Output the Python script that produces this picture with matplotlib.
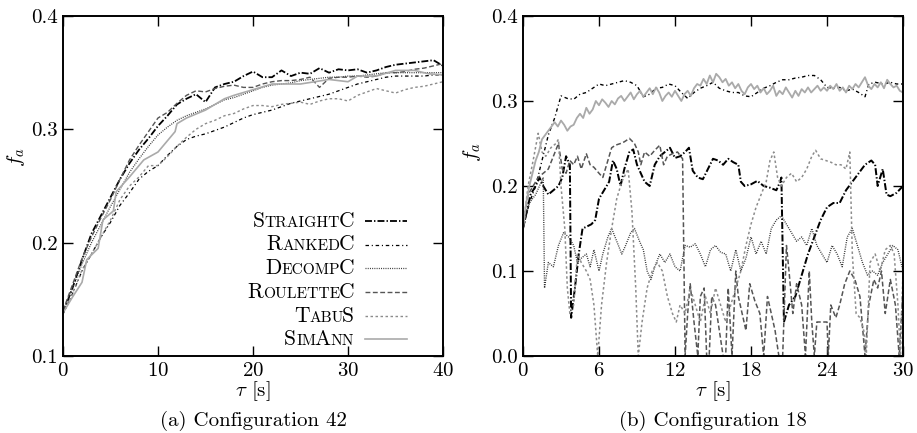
import numpy as np
import matplotlib
matplotlib.use("Agg")
import matplotlib.pyplot as plt
from matplotlib.lines import Line2D
from matplotlib.ticker import FormatStrFormatter, MultipleLocator
from matplotlib.offsetbox import TextArea, HPacker, VPacker, DrawingArea, AnchoredOffsetbox

plt.rcParams['font.family'] = 'cmr10'
plt.rcParams['mathtext.fontset'] = 'cm'
plt.rcParams['axes.formatter.use_mathtext'] = True
plt.rcParams['lines.scale_dashes'] = False

names = ['StraightC', 'RankedC', 'DecompC', 'RouletteC', 'TabuS', 'SimAnn']
colors = ['#000000', '#000000', '#333333', '#555555', '#8c8c8c', '#aaaaaa']
widths = [1.3, 0.9, 0.9, 1.0, 1.0, 1.2]
styles = [(0, (5, 1.5, 1, 1.5)), (0, (2.5, 2, 0.8, 2)), (0, (0.7, 0.9)),
          (0, (3.5, 1.8)), (0, (1.8, 1.8)), '-']

# ---- (a) configuration 42 ----
t_a = list(range(41))
straight_a = [0.138, 0.16, 0.185, 0.208, 0.224, 0.24, 0.256, 0.27, 0.282, 0.292, 0.303, 0.312,
              0.322, 0.327, 0.331, 0.324, 0.337, 0.34, 0.342, 0.347, 0.351, 0.346, 0.346, 0.352,
              0.347, 0.35, 0.349, 0.354, 0.35, 0.353, 0.352, 0.353, 0.35, 0.352, 0.355, 0.357,
              0.358, 0.359, 0.36, 0.361, 0.356]
ranked_a = [0.137, 0.155, 0.175, 0.19, 0.205, 0.218, 0.233, 0.244, 0.256, 0.263, 0.268, 0.277,
            0.285, 0.291, 0.294, 0.296, 0.299, 0.302, 0.306, 0.31, 0.313, 0.315, 0.317, 0.32,
            0.323, 0.325, 0.327, 0.329, 0.331, 0.334, 0.337, 0.34, 0.342, 0.344, 0.346, 0.347,
            0.347, 0.347, 0.347, 0.348, 0.348]
decomp_a = [0.14, 0.16, 0.181, 0.2, 0.216, 0.232, 0.247, 0.262, 0.274, 0.285, 0.295, 0.302,
            0.308, 0.312, 0.315, 0.318, 0.322, 0.326, 0.328, 0.331, 0.334, 0.337, 0.339, 0.34,
            0.341, 0.343, 0.344, 0.345, 0.346, 0.346, 0.347, 0.347, 0.348, 0.349, 0.35, 0.35,
            0.35, 0.35, 0.35, 0.35, 0.35]
roulette_a = [0.14, 0.163, 0.186, 0.205, 0.222, 0.238, 0.256, 0.273, 0.286, 0.298, 0.31, 0.315,
              0.323, 0.33, 0.334, 0.333, 0.336, 0.338, 0.339, 0.337, 0.337, 0.34, 0.342, 0.343,
              0.343, 0.344, 0.346, 0.337, 0.345, 0.346, 0.346, 0.347, 0.346, 0.347, 0.35, 0.35,
              0.351, 0.353, 0.354, 0.356, 0.358]
tabu_a = [0.137, 0.155, 0.176, 0.19, 0.205, 0.22, 0.238, 0.25, 0.258, 0.268, 0.268, 0.276,
          0.285, 0.293, 0.3, 0.305, 0.308, 0.312, 0.314, 0.318, 0.321, 0.321, 0.32, 0.322,
          0.323, 0.324, 0.322, 0.325, 0.327, 0.327, 0.325, 0.33, 0.333, 0.336, 0.334, 0.332,
          0.335, 0.337, 0.338, 0.34, 0.342]
t_sim_a = [0, 1, 2, 2.5, 3.7, 4.2, 5.3, 5.6, 7, 8.5, 10, 11, 11.8, 12, 13, 15, 17, 18, 20, 22,
           25, 28, 30, 31, 33, 35, 37, 38.5, 40]
simann_a = [0.138, 0.152, 0.165, 0.185, 0.195, 0.22, 0.228, 0.245, 0.258, 0.273, 0.28, 0.29,
            0.298, 0.305, 0.31, 0.317, 0.327, 0.33, 0.335, 0.34, 0.34, 0.344, 0.342, 0.347,
            0.347, 0.352, 0.352, 0.349, 0.348]

# ---- (b) configuration 18, (t, f) pairs ----
straight_b = [(0, .15), (.3, .17), (.6, .19), (1, .2), (1.3, .21), (1.6, .2), (2, .19), (2.4, .195),
              (2.8, .2), (3.1, .21), (3.4, .235), (3.7, .225), (3.8, .045), (4.1, .08), (4.4, .12),
              (4.7, .15), (5, .152), (5.4, .155), (5.7, .16), (6, .185), (6.4, .195), (6.8, .205),
              (7.1, .23), (7.4, .22), (7.7, .2), (8, .22), (8.4, .24), (8.7, .243), (9, .225),
              (9.3, .215), (9.6, .205), (10, .2), (10.4, .225), (10.8, .235), (11.2, .24),
              (11.6, .245), (12, .233), (12.4, .235), (12.8, .24), (13.1, .245), (13.4, .218),
              (13.8, .21), (14.2, .208), (14.6, .22), (15, .232), (15.4, .23), (15.8, .225),
              (16.2, .232), (16.6, .228), (17, .225), (17.2, .205), (17.5, .2), (18, .202),
              (18.5, .206), (19, .2), (19.5, .198), (20, .195), (20.3, .205), (20.4, .21),
              (20.6, .04), (21, .06), (21.5, .07), (22, .095), (22.5, .12), (23, .14), (23.5, .16),
              (24, .175), (24.5, .18), (25, .18), (25.5, .195), (26, .205), (26.5, .215),
              (27, .225), (27.5, .23), (27.8, .225), (28, .2), (28.2, .21), (28.4, .22),
              (28.7, .19), (29, .188), (29.5, .192), (30, .2)]
ranked_b = [(0, .15), (.5, .18), (1, .2), (1.5, .23), (2, .26), (2.5, .28), (3, .306), (3.5, .303),
            (4, .302), (4.5, .308), (5, .31), (5.5, .315), (6, .32), (6.5, .318), (7, .32),
            (7.5, .322), (8, .324), (8.5, .322), (9, .318), (9.5, .305), (10, .308), (10.5, .315),
            (11, .316), (11.5, .32), (12, .318), (12.5, .31), (13, .303), (13.5, .31), (14, .315),
            (14.5, .318), (15, .322), (15.5, .315), (16, .312), (16.5, .31), (17, .31),
            (17.5, .306), (18, .305), (18.5, .31), (19, .315), (19.5, .318), (20, .322),
            (20.5, .325), (21, .325), (21.5, .327), (22, .328), (22.5, .33), (23, .33),
            (23.5, .325), (24, .316), (24.5, .315), (25, .316), (25.5, .312), (26, .314),
            (26.5, .31), (27, .305), (27.3, .32), (27.8, .322), (28.5, .32), (29, .322),
            (29.5, .32), (30, .32)]
decomp_b = [(0, .15), (.5, .18), (1, .19), (1.3, .2), (1.6, .21), (1.7, .08), (2, .11), (2.4, .105),
            (2.8, .13), (3.2, .145), (3.6, .14), (4, .13), (4.3, .11), (4.6, .115), (5, .12),
            (5.3, .105), (5.6, .125), (6, .1), (6.3, .12), (6.7, .14), (7, .15), (7.4, .135),
            (7.8, .12), (8.1, .13), (8.5, .145), (8.8, .15), (9.2, .135), (9.5, .125), (9.8, .1),
            (10.1, .09), (10.4, .105), (10.8, .12), (11.2, .11), (11.6, .12), (12, .105),
            (12.4, .1), (12.8, .13), (13.2, .128), (13.6, .132), (14, .12), (14.4, .105),
            (14.8, .125), (15.2, .13), (15.6, .122), (16, .12), (16.4, .1), (16.8, .125),
            (17.2, .1), (17.6, .115), (18, .14), (18.4, .12), (18.8, .135), (19.2, .12),
            (19.6, .15), (20, .16), (20.4, .165), (20.8, .155), (21.2, .145), (21.6, .135),
            (22, .14), (22.4, .13), (22.8, .15), (23.2, .13), (23.6, .12), (24, .11), (24.4, .13),
            (24.8, .12), (25.2, .105), (25.6, .14), (26, .15), (26.4, .13), (26.8, .11),
            (27.2, .095), (27.6, .1), (28, .095), (28.4, .11), (28.8, .12), (29.2, .13),
            (29.6, .125), (30, .1)]
roulette_b = [(0, .15), (.4, .19), (.8, .2), (1.2, .21), (1.6, .215), (2, .22), (2.4, .235),
              (2.8, .25), (3.1, .22), (3.4, .215), (3.7, .23), (4, .225), (4.3, .235), (4.6, .22),
              (5, .238), (5.3, .225), (5.6, .222), (6, .215), (6.3, .21), (6.7, .23), (7, .245),
              (7.3, .248), (7.7, .25), (8, .252), (8.4, .256), (8.8, .25), (9.1, .24), (9.3, .225),
              (9.6, .24), (10, .235), (10.4, .242), (10.8, .248), (11.1, .225), (11.4, .235),
              (11.8, .238), (12.2, .24), (12.6, .232), (12.8, 0), (13, .05), (13.2, .085),
              (13.5, .04), (13.8, 0), (14, .07), (14.3, .08), (14.5, 0), (14.7, 0), (14.9, .07),
              (15.2, .06), (15.5, .03), (15.8, 0), (16, 0), (16.2, .08), (16.5, 0), (16.8, .1),
              (17, .07), (17.3, .05), (17.6, .03), (17.9, .085), (18.3, .065), (18.7, .05),
              (19, 0), (19.3, .07), (19.6, .05), (19.9, .03), (20.2, 0), (20.5, 0), (20.8, .13),
              (21, .1), (21.3, .05), (21.6, .085), (22, .06), (22.3, 0), (22.6, .1), (22.8, .04),
              (23, 0), (23.2, .04), (23.6, .04), (24, .04), (24.1, 0), (24.3, .06), (24.7, .045),
              (25, .06), (25.4, .085), (25.8, .1), (26.2, .09), (26.6, .07), (27, 0), (27.3, .06),
              (27.7, .09), (28, .08), (28.3, .1), (28.6, .05), (29, .09), (29.4, .06), (29.7, 0),
              (30, .08)]
tabu_b = [(0, .15), (.4, .2), (.8, .23), (1.2, .262), (1.5, .24), (1.8, .235), (2.2, .245),
          (2.6, .25), (2.8, .255), (3, .2), (3.3, .15), (3.5, .08), (3.7, .05), (4, .06), (4.3, .12),
          (4.6, .11), (5, .1), (5.3, .09), (5.6, .06), (5.9, 0), (6.2, .06), (6.6, .11), (7, .15),
          (7.4, .185), (7.8, .205), (8.3, .22), (8.6, .17), (8.9, .08), (9.1, 0), (9.4, .04),
          (9.8, .08), (10.2, .1), (10.6, .11), (11, .1), (11.4, .07), (11.8, .05), (12.1, .04),
          (12.4, .06), (12.8, .05), (13.2, .08), (13.6, .06), (14, .04), (14.4, .07), (14.8, .05),
          (15.2, .08), (15.6, .06), (16, .04), (16.4, .06), (16.8, .08), (17.2, .1), (17.6, .13),
          (18, .155), (18.4, .175), (18.8, .19), (19.2, .205), (19.5, .23), (19.8, .24),
          (20.1, .21), (20.4, .2), (20.8, .21), (21.2, .215), (21.6, .205), (22, .21), (22.4, .22),
          (22.8, .235), (23.1, .242), (23.5, .232), (23.9, .23), (24.3, .228), (24.7, .225),
          (25.1, .225), (25.5, .22), (25.8, .24), (26, .12), (26.3, .05), (26.6, .045),
          (26.9, .03), (27.1, 0), (27.4, .11), (27.8, .12), (28.2, .1), (28.6, .125), (29, .13),
          (29.3, .12), (29.6, .06), (29.8, 0), (30, .1)]
simann_b = [(0, .15), (.25, .18), (.5, .2), (.75, .215), (1, .23), (1.25, .24), (1.5, .255),
            (1.75, .26), (2, .265), (2.25, .27), (2.5, .275), (2.75, .27), (3, .277), (3.25, .272),
            (3.5, .265), (3.75, .27), (4, .272), (4.25, .28), (4.5, .285), (4.75, .28), (5, .292),
            (5.25, .285), (5.5, .29), (5.75, .3), (6, .295), (6.25, .302), (6.5, .298),
            (6.75, .293), (7, .3), (7.25, .296), (7.5, .303), (7.75, .306), (8, .3), (8.25, .305),
            (8.5, .31), (8.75, .302), (9, .308), (9.25, .312), (9.5, .305), (9.75, .31),
            (10, .315), (10.25, .308), (10.5, .316), (10.75, .31), (11, .3), (11.25, .306),
            (11.5, .31), (11.75, .305), (12, .312), (12.25, .306), (12.5, .3), (12.75, .308),
            (13, .312), (13.25, .306), (13.5, .315), (13.75, .32), (14, .318), (14.25, .326),
            (14.5, .32), (14.75, .33), (15, .322), (15.25, .332), (15.5, .328), (15.75, .322),
            (16, .326), (16.25, .318), (16.5, .322), (16.75, .315), (17, .32), (17.25, .312),
            (17.5, .308), (17.75, .316), (18, .32), (18.25, .314), (18.5, .318), (18.75, .31),
            (19, .315), (19.25, .308), (19.5, .312), (19.75, .318), (20, .306), (20.25, .312),
            (20.5, .308), (20.75, .316), (21, .31), (21.25, .304), (21.5, .312), (21.75, .306),
            (22, .314), (22.25, .31), (22.5, .316), (22.75, .31), (23, .314), (23.25, .318),
            (23.5, .312), (23.75, .316), (24, .312), (24.25, .318), (24.5, .314), (24.75, .32),
            (25, .312), (25.25, .316), (25.5, .31), (25.75, .318), (26, .314), (26.25, .32),
            (26.5, .316), (26.75, .322), (27, .328), (27.25, .318), (27.5, .314), (27.75, .32),
            (28, .316), (28.25, .322), (28.5, .315), (28.75, .325), (29, .32), (29.25, .316),
            (29.5, .318), (29.75, .312), (30, .31)]

series_a = [(t_a, straight_a), (t_a, ranked_a), (t_a, decomp_a), (t_a, roulette_a),
            (t_a, tabu_a), (t_sim_a, simann_a)]
series_b = [tuple(zip(*s)) for s in [straight_b, ranked_b, decomp_b, roulette_b, tabu_b, simann_b]]

FS = 15

fig = plt.figure(figsize=(9.17, 4.33), dpi=100)
ax1 = fig.add_axes([63 / 917, 77 / 433, 380 / 917, 340 / 433])
ax2 = fig.add_axes([523 / 917, 77 / 433, 380 / 917, 340 / 433])


def style_axes(ax, xmax, xstep, ymin, cap):
    ax.set_xlim(0, xmax)
    ax.set_ylim(ymin, 0.4)
    ax.xaxis.set_major_locator(MultipleLocator(xstep))
    ax.yaxis.set_major_locator(MultipleLocator(0.1))
    ax.yaxis.set_major_formatter(FormatStrFormatter('%.1f'))
    ax.tick_params(direction='in', top=True, right=True, length=7, width=1.0,
                   labelsize=FS, pad=4)
    for sp in ax.spines.values():
        sp.set_linewidth(1.4)
    ax.set_xlabel(r'$\tau$ [s]', fontsize=FS, labelpad=0)
    ax.set_ylabel(r'$f_a$', fontsize=FS)
    ax.text(0.5, -0.207, cap, transform=ax.transAxes, ha='center', va='baseline', fontsize=FS)


style_axes(ax1, 40, 10, 0.1, '(a) Configuration 42')
ax1.yaxis.set_label_coords(-0.095, 0.585)
style_axes(ax2, 30, 6, 0.0, '(b) Configuration 18')
ax2.yaxis.set_label_coords(-0.105, 0.6)

for i in range(6):
    x, y = series_a[i]
    ax1.plot(x, y, color=colors[i], lw=widths[i], linestyle=styles[i])
for i in range(6):
    x, y = series_b[i]
    ax2.plot(x, y, color=colors[i], lw=widths[i] * 1.1, linestyle=styles[i])


def smallcaps_box(name, size):
    # runs of capitals stay, runs of lower case become smaller capitals
    runs = []
    for ch in name:
        low = ch.islower()
        if runs and runs[-1][1] == low:
            runs[-1][0] += ch
        else:
            runs.append([ch, low])
    box = None
    prev_low = False
    for r, low in runs:
        ta = TextArea(r.upper() if low else r,
                      textprops=dict(fontsize=size * 0.72 if low else size, family='cmr10'))
        if box is None:
            box = ta
        else:
            box = HPacker(children=[box, ta], sep=-1.2 if prev_low else 0, pad=0, align='baseline')
        prev_low = low
    return box


rows = []
for i, n in enumerate(names):
    da = DrawingArea(30, 8, 0, 0)
    da.add_artist(Line2D([0, 30], [4, 4], color=colors[i], lw=widths[i], linestyle=styles[i]))
    rows.append(HPacker(children=[smallcaps_box(n, FS + 0.5), da], sep=8, pad=0, align='center'))
legend_box = VPacker(children=rows, sep=3.0, pad=0, align='right')
anch = AnchoredOffsetbox(loc='lower right', child=legend_box, pad=0, borderpad=0, frameon=False,
                         bbox_to_anchor=(0.905, 0.02), bbox_transform=ax1.transAxes)
ax1.add_artist(anch)

fig.savefig('out.png', dpi=100)
